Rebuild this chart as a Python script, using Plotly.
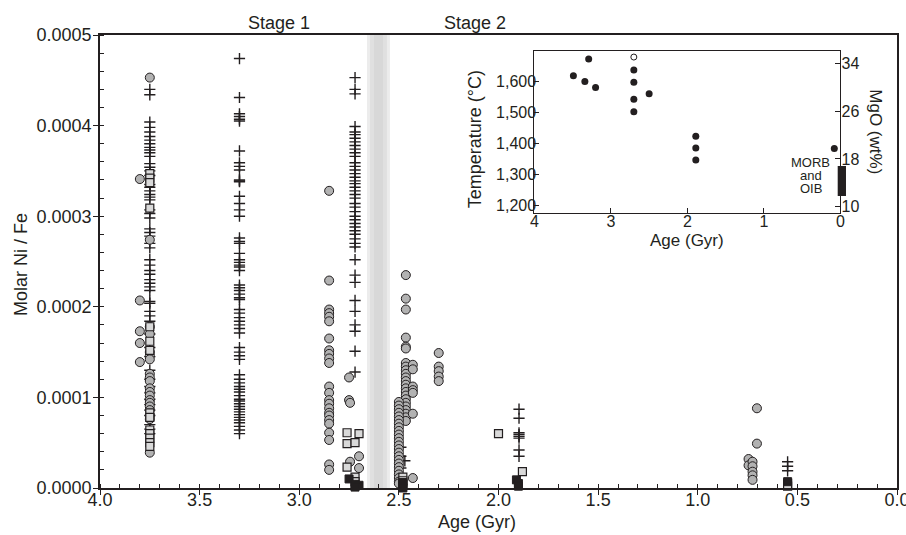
import plotly.graph_objects as go

# Ni/Fe data, values in molar ratio, grouped by age column
# 3.75 Gyr column
cross_375 = [4.40e-4, 4.34e-4, 4.04e-4, 3.98e-4, 3.93e-4, 3.88e-4, 3.84e-4, 3.80e-4, 3.76e-4, 3.73e-4,
             3.70e-4, 3.66e-4, 3.58e-4, 3.54e-4, 3.50e-4, 3.45e-4, 3.35e-4, 3.32e-4, 3.28e-4, 3.24e-4,
             3.21e-4, 3.18e-4, 3.07e-4, 3.03e-4, 2.98e-4, 2.86e-4, 2.82e-4, 2.78e-4, 2.70e-4, 2.65e-4,
             2.52e-4, 2.46e-4, 2.40e-4, 2.36e-4, 2.30e-4, 2.26e-4, 2.22e-4, 2.18e-4, 2.06e-4, 2.04e-4,
             1.95e-4, 1.90e-4, 1.84e-4, 1.70e-4, 1.55e-4, 1.45e-4, 1.30e-4, 1.20e-4, 1.12e-4, 1.05e-4,
             0.98e-4, 0.92e-4, 0.86e-4, 0.80e-4, 0.70e-4, 0.65e-4, 0.60e-4]
circle_375 = [4.53e-4, 2.74e-4, 1.78e-4, 1.70e-4, 1.50e-4, 1.46e-4, 1.42e-4, 1.26e-4, 1.22e-4, 1.18e-4,
              1.10e-4, 1.06e-4, 1.02e-4, 0.97e-4, 0.94e-4, 0.90e-4, 0.86e-4, 0.80e-4, 0.76e-4, 0.39e-4]
circle_380 = [3.41e-4, 2.07e-4, 1.73e-4, 1.60e-4, 1.39e-4]
square_375 = [3.47e-4, 3.42e-4, 3.37e-4, 3.09e-4, 1.78e-4, 1.62e-4, 1.52e-4, 0.83e-4, 0.78e-4, 0.64e-4,
              0.60e-4, 0.55e-4, 0.50e-4, 0.46e-4]

# 3.3 Gyr column
cross_330 = [4.74e-4, 4.31e-4, 4.13e-4, 4.10e-4, 4.07e-4, 4.05e-4, 3.72e-4, 3.59e-4, 3.55e-4, 3.51e-4,
             3.40e-4, 3.39e-4, 3.38e-4, 3.22e-4, 3.14e-4, 3.07e-4, 3.00e-4, 2.76e-4, 2.72e-4, 2.70e-4,
             2.59e-4, 2.52e-4, 2.49e-4, 2.46e-4, 2.44e-4, 2.40e-4, 2.24e-4, 2.21e-4, 2.18e-4, 2.14e-4,
             2.10e-4, 2.08e-4, 1.97e-4, 1.93e-4, 1.88e-4, 1.84e-4, 1.80e-4, 1.76e-4, 1.71e-4, 1.55e-4,
             1.50e-4, 1.46e-4, 1.42e-4, 1.25e-4, 1.20e-4, 1.16e-4, 1.12e-4, 1.09e-4, 1.06e-4, 1.02e-4,
             0.98e-4, 0.96e-4, 0.93e-4, 0.90e-4, 0.87e-4, 0.84e-4, 0.81e-4, 0.78e-4, 0.75e-4, 0.72e-4,
             0.68e-4, 0.64e-4, 0.60e-4]

# 2.85 Gyr column
circle_285 = [3.28e-4, 2.29e-4, 1.97e-4, 1.93e-4, 1.89e-4, 1.84e-4, 1.65e-4, 1.52e-4, 1.48e-4, 1.43e-4,
              1.38e-4, 1.12e-4, 1.05e-4, 0.97e-4, 0.93e-4, 0.88e-4, 0.83e-4, 0.80e-4, 0.75e-4, 0.71e-4,
              0.61e-4, 0.53e-4, 0.26e-4, 0.20e-4]

# 2.72 Gyr column
cross_272 = [4.53e-4, 4.40e-4, 4.35e-4, 3.99e-4, 3.93e-4, 3.90e-4, 3.86e-4, 3.82e-4, 3.78e-4, 3.74e-4,
             3.70e-4, 3.66e-4, 3.59e-4, 3.55e-4, 3.51e-4, 3.47e-4, 3.43e-4, 3.39e-4, 3.36e-4, 3.32e-4,
             3.28e-4, 3.24e-4, 3.20e-4, 3.14e-4, 3.10e-4, 3.05e-4, 3.00e-4, 2.96e-4, 2.92e-4, 2.88e-4,
             2.84e-4, 2.80e-4, 2.75e-4, 2.70e-4, 2.66e-4, 2.52e-4, 2.35e-4, 2.27e-4, 2.07e-4, 1.95e-4,
             1.80e-4, 1.73e-4, 1.51e-4, 1.28e-4]
circle_272_age = [2.75, 2.75, 2.745, 2.70, 2.745, 2.70]
circle_272 = [1.22e-4, 0.97e-4, 0.94e-4, 0.35e-4, 0.29e-4, 0.22e-4]
square_272_age = [2.76, 2.70, 2.76, 2.72, 2.76, 2.72, 2.72]
square_272 = [0.61e-4, 0.60e-4, 0.49e-4, 0.50e-4, 0.23e-4, 0.12e-4, 0.07e-4]
black_272_age = [2.75, 2.72, 2.70, 2.72]
black_272 = [0.10e-4, 0.04e-4, 0.03e-4, 0.01e-4]

# 2.5 Gyr cluster
circle_247 = [2.35e-4, 2.09e-4, 1.97e-4, 1.66e-4, 1.56e-4, 1.54e-4, 1.38e-4, 1.34e-4, 1.30e-4, 1.26e-4,
              1.22e-4, 1.18e-4, 1.14e-4, 1.10e-4, 1.06e-4, 1.02e-4, 0.98e-4, 0.94e-4, 0.90e-4, 0.86e-4,
              0.82e-4, 0.78e-4, 0.74e-4]
circle_243 = [1.36e-4, 1.31e-4, 1.12e-4, 1.08e-4, 1.05e-4, 0.82e-4, 0.11e-4]
circle_250 = [0.95e-4, 0.91e-4, 0.87e-4, 0.83e-4, 0.79e-4, 0.75e-4, 0.71e-4, 0.67e-4, 0.63e-4, 0.59e-4,
              0.55e-4, 0.51e-4, 0.47e-4, 0.43e-4, 0.39e-4, 0.35e-4, 0.31e-4, 0.27e-4, 0.23e-4, 0.19e-4,
              0.15e-4, 0.11e-4, 0.07e-4, 0.05e-4]
circle_230 = [1.49e-4, 1.34e-4, 1.29e-4, 1.23e-4, 1.18e-4]
cross_249_age = [2.49, 2.49, 2.47, 2.49]
cross_249 = [0.45e-4, 0.35e-4, 0.30e-4, 0.22e-4]
square_248 = [0.12e-4, 0.08e-4, 0.04e-4]
black_248 = [0.06e-4, 0.02e-4, 0.00]

# 2.0 - 1.9 Gyr
cross_190 = [0.87e-4, 0.77e-4, 0.61e-4, 0.59e-4, 0.57e-4, 0.55e-4, 0.42e-4, 0.35e-4]
square_190_age = [2.0, 1.88]
square_190 = [0.60e-4, 0.18e-4]
black_190_age = [1.91, 1.90, 1.90]
black_190 = [0.09e-4, 0.05e-4, 0.02e-4]

# 0.7 and 0.55 Gyr
circle_070_age = [0.703, 0.703, 0.745, 0.745, 0.725, 0.725, 0.725, 0.725, 0.725]
circle_070 = [0.88e-4, 0.49e-4, 0.32e-4, 0.25e-4, 0.29e-4, 0.24e-4, 0.18e-4, 0.14e-4, 0.09e-4]
cross_055 = [0.29e-4, 0.24e-4, 0.19e-4]
square_055 = [0.05e-4, 0.02e-4]
black_055 = [0.07e-4]

# inset: mantle potential temperature
inset_age = [3.49, 3.29, 3.34, 3.20, 2.70, 2.70, 2.70, 2.70, 2.50, 1.89, 1.89, 1.89, 0.08]
inset_temp = [1619, 1673, 1600, 1581, 1637, 1598, 1543, 1503, 1561, 1424, 1386, 1347, 1384]
inset_open_age = [2.70]
inset_open_temp = [1679]
morb_mgo = [11.8, 16.8]

INK = "#231f20"
FONT = "Liberation Sans, Arial, sans-serif"

fig = go.Figure()


def add_pts(ages, vals, kind):
    if kind == "cross":
        m = dict(symbol="cross-thin", size=8, line=dict(width=1.4, color=INK))
    elif kind == "circle":
        m = dict(symbol="circle", size=9, color="#b2b2b2", line=dict(width=1, color=INK))
    elif kind == "square":
        m = dict(symbol="square", size=8, color="#d9d9d9", line=dict(width=1.2, color=INK))
    else:
        m = dict(symbol="square", size=8, color=INK, line=dict(width=1, color=INK))
    fig.add_trace(go.Scatter(x=ages, y=vals, mode="markers", marker=m,
                             showlegend=False, cliponaxis=False))


add_pts([3.75] * len(cross_375), cross_375, "cross")
add_pts([3.30] * len(cross_330), cross_330, "cross")
add_pts([2.72] * len(cross_272), cross_272, "cross")
add_pts(cross_249_age, cross_249, "cross")
add_pts([1.897] * len(cross_190), cross_190, "cross")
add_pts([0.549] * len(cross_055), cross_055, "cross")

add_pts([3.75] * len(circle_375), circle_375, "circle")
add_pts([3.80] * len(circle_380), circle_380, "circle")
add_pts([2.85] * len(circle_285), circle_285, "circle")
add_pts(circle_272_age, circle_272, "circle")
add_pts([2.465] * len(circle_247), circle_247, "circle")
add_pts([2.43] * len(circle_243), circle_243, "circle")
add_pts([2.50] * len(circle_250), circle_250, "circle")
add_pts([2.30] * len(circle_230), circle_230, "circle")
add_pts(circle_070_age, circle_070, "circle")

add_pts([3.75] * len(square_375), square_375, "square")
add_pts(square_272_age, square_272, "square")
add_pts([2.48] * len(square_248), square_248, "square")
add_pts(square_190_age, square_190, "square")
add_pts([0.549] * len(square_055), square_055, "square")

add_pts(black_272_age, black_272, "black")
add_pts([2.48] * len(black_248), black_248, "black")
add_pts(black_190_age, black_190, "black")
add_pts([0.549] * len(black_055), black_055, "black")

# inset traces
fig.add_trace(go.Scatter(x=inset_age, y=inset_temp, mode="markers", xaxis="x2", yaxis="y2",
                         marker=dict(size=7, color=INK), showlegend=False))
fig.add_trace(go.Scatter(x=inset_open_age, y=inset_open_temp, mode="markers", xaxis="x2", yaxis="y2",
                         marker=dict(size=6, color="white", line=dict(width=1, color=INK)),
                         showlegend=False, cliponaxis=False))
# dummy trace to show MgO axis
fig.add_trace(go.Scatter(x=[None], y=[None], xaxis="x2", yaxis="y3", showlegend=False))

# grey boundary bands (main + inset)
for (a, b, c) in [(2.66, 2.545, "#ececec"), (2.645, 2.56, "#e0e0e0"), (2.625, 2.58, "#d8d8d8")]:
    fig.add_shape(type="rect", xref="x", yref="y domain", x0=a, x1=b, y0=0, y1=1,
                  fillcolor=c, line_width=0, layer="below")
for (a, b, c) in [(2.61, 2.47, "#ececec"), (2.585, 2.49, "#dedede")]:
    fig.add_shape(type="rect", xref="x2", yref="y2 domain", x0=a, x1=b, y0=0, y1=1,
                  fillcolor=c, line_width=0, layer="below")

# MORB / OIB bar on MgO axis
fig.add_shape(type="rect", xref="paper", yref="y3", x0=0.9256, x1=0.936,
              y0=morb_mgo[0], y1=morb_mgo[1], fillcolor=INK, line_width=0)

tickfont = dict(family=FONT, size=18, color=INK)
insetfont = dict(family=FONT, size=16, color=INK)

fig.update_layout(
    width=906, height=535,
    margin=dict(l=100, r=9, t=35, b=47),
    plot_bgcolor="white", paper_bgcolor="white",
    font=dict(family=FONT, color=INK),
    xaxis=dict(range=[4.0, 0.0], tickvals=[4.0, 3.5, 3.0, 2.5, 2.0, 1.5, 1.0, 0.5, 0.0],
               tickformat=".1f", ticks="outside", ticklen=5, tickwidth=1.2, tickcolor=INK,
               showline=True, linecolor=INK, linewidth=1.5, mirror=True, showgrid=False,
               zeroline=False, tickfont=tickfont, ticklabeloverflow="allow", automargin=False,
               ticklabelstandoff=-10,
               minor=dict(ticks="inside", ticklen=4, dtick=0.1, tickcolor=INK, tickwidth=1)),
    yaxis=dict(range=[0, 0.0005], tickvals=[0, 0.0001, 0.0002, 0.0003, 0.0004, 0.0005],
               tickformat=".4f", ticks="outside", ticklen=5, tickwidth=1.2, tickcolor=INK,
               showline=True, linecolor=INK, linewidth=1.5, mirror=True, showgrid=False,
               zeroline=False, tickfont=tickfont, ticklabeloverflow="allow", automargin=False,
               ticklabelstandoff=-2,
               minor=dict(ticks="inside", ticklen=4, dtick=0.00002, tickcolor=INK, tickwidth=1)),
    xaxis2=dict(domain=[0.545, 0.929], anchor="y2", range=[4, 0], tickvals=[4, 3, 2, 1, 0],
                ticks="inside", ticklen=5, tickcolor=INK, showline=True, linecolor=INK,
                linewidth=1, mirror=True, showgrid=False, zeroline=False, tickfont=insetfont,
                ticklabeloverflow="allow", automargin=False, ticklabelstandoff=-6),
    yaxis2=dict(domain=[0.607, 0.965], anchor="x2", range=[1176, 1699],
                tickvals=[1200, 1300, 1400, 1500, 1600], tickformat=",d",
                ticks="inside", ticklen=5, tickcolor=INK, showline=True, linecolor=INK,
                linewidth=1, mirror=True, showgrid=False, zeroline=False, tickfont=insetfont,
                automargin=False, ticklabelstandoff=-6),
    yaxis3=dict(overlaying="y2", side="right", anchor="x2", range=[8.95, 36.06],
                tickvals=[10, 18, 26, 34], ticks="inside", ticklen=5, tickcolor=INK,
                showline=True, linecolor=INK, linewidth=1, showgrid=False, zeroline=False,
                tickfont=insetfont, automargin=False, ticklabelstandoff=-3),
)

big = dict(family=FONT, size=18, color=INK)
fig.add_annotation(text="Molar Ni / Fe", textangle=-90, x=-0.1, xref="paper", y=0.493,
                   yref="paper", xanchor="center", yanchor="middle", showarrow=False, font=big)
fig.add_annotation(text="Age (Gyr)", x=2.11, xref="x", y=-0.075, yref="paper",
                   xanchor="center", yanchor="middle", showarrow=False, font=big)
fig.add_annotation(text="Stage 1", x=3.1, xref="x", y=1.0, yref="paper", xanchor="center",
                   yanchor="bottom", showarrow=False, font=big)
fig.add_annotation(text="Stage 2", x=2.12, xref="x", y=1.0, yref="paper", xanchor="center",
                   yanchor="bottom", showarrow=False, font=big)
# inset titles
fig.add_annotation(text="Temperature (°C)", textangle=-90, x=0.4705, xref="paper", y=0.77,
                   yref="paper", xanchor="center", yanchor="middle", showarrow=False, font=big)
fig.add_annotation(text="Age (Gyr)", x=2.0, xref="x2", y=0.546, yref="paper",
                   xanchor="center", yanchor="middle", showarrow=False,
                   font=dict(family=FONT, size=17, color=INK))
fig.add_annotation(text="MgO (wt%)", textangle=90, x=0.972, xref="paper", y=22.5, yref="y3",
                   xanchor="center", yanchor="middle", showarrow=False,
                   font=dict(family=FONT, size=17, color=INK))
for txt, mg in [("MORB", 17.4), ("and", 15.2), ("OIB", 13.1)]:
    fig.add_annotation(text=txt, x=0.892, xref="paper", y=mg, yref="y3", xanchor="center",
                       yanchor="middle", showarrow=False, font=dict(family=FONT, size=13, color=INK))

fig.write_html("out.html", config={"displayModeBar": False},
               post_script="document.body.style.margin='0';")
